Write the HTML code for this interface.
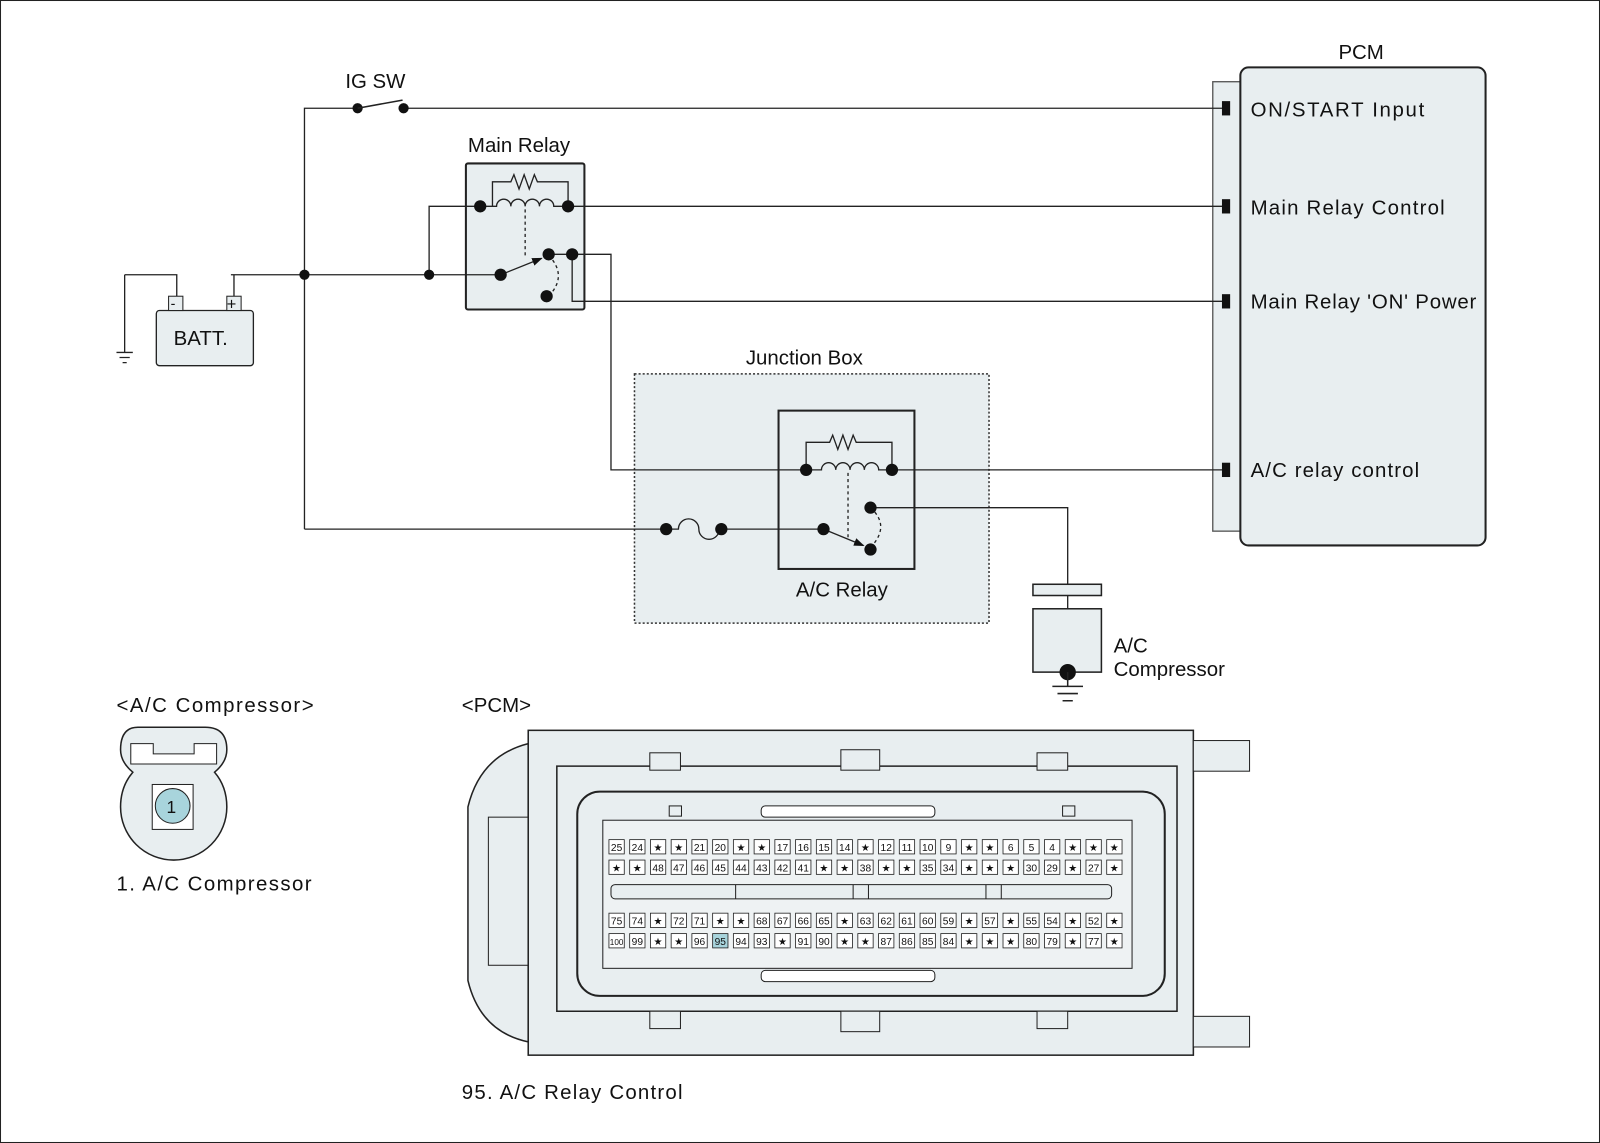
<!DOCTYPE html>
<html><head><meta charset="utf-8"><style>
html,body{margin:0;padding:0;background:#fff}
svg{display:block}
text{font-family:"Liberation Sans",sans-serif;fill:#111}
</style></head><body>
<svg width="1600" height="1143" viewBox="0 0 1566 1119" preserveAspectRatio="none" xmlns="http://www.w3.org/2000/svg">
<defs><marker id="ar" markerWidth="8" markerHeight="8" refX="7" refY="4" orient="auto"><path d="M0 1 L8 4 L0 7 Z" fill="#111"/></marker></defs>
<rect x="0.5" y="0.5" width="1565" height="1118" fill="#fff" stroke="#222"/>
<!-- PCM box -->
<rect x="1187" y="80" width="28" height="440" fill="#e8eef0" stroke="#555" stroke-width="1.3"/>
<rect x="1214" y="66" width="240" height="468" rx="8" fill="#e8eef0" stroke="#222" stroke-width="2"/>
<!-- Junction box background -->
<text x="730" y="357" font-size="20">Junction Box</text>
<rect x="621" y="366" width="347" height="244" fill="#e8eef0" stroke="#333" stroke-width="1.5" stroke-dasharray="2,2"/>
<rect x="762" y="402" width="133" height="155" fill="#e8eef0" stroke="#222" stroke-width="2"/>
<!-- Battery / main relay bg -->
<rect x="456" y="160" width="116" height="143" rx="2" fill="#e8eef0" stroke="#222" stroke-width="2"/>
<g stroke="#222" stroke-width="1.3" fill="none">
<path d="M298 518 V106 H348"/>
<path d="M398 106 H1200"/>
<path d="M226 269 H490"/>
<path d="M420 269 V202 H470"/>
<path d="M556 202 H1200"/>
<path d="M560 249 H598 V460 H790"/>
<path d="M560 249 V295 H1200"/>
<path d="M872 460 H1200"/>
<path d="M298 518 H652"/>
<path d="M706 518 H806"/>
<path d="M852 497 H1045 V572"/>
<path d="M1045 583 V596"/>
<path d="M122 269 H173 V290"/>
<path d="M122 269 V345"/>
<path d="M114 345 H130 M117 350 H127 M120 355 H124"/>
<path d="M229 290 V269"/>
</g>
<!-- IG SW -->
<circle cx="350" cy="106" r="5" fill="#111"/><circle cx="395" cy="106" r="5" fill="#111"/>
<line x1="350" y1="106" x2="394" y2="98" stroke="#222" stroke-width="1.5"/>
<text x="338" y="86" font-size="20">IG SW</text>
<!-- Battery -->
<rect x="153" y="304" width="95" height="54" rx="3" fill="#e8eef0" stroke="#222" stroke-width="1.3"/>
<rect x="165" y="290" width="14" height="14" fill="#e8eef0" stroke="#222"/><text x="167" y="302" font-size="14">-</text>
<rect x="222" y="290" width="14" height="14" fill="#e8eef0" stroke="#222"/><text x="222" y="303" font-size="16">+</text>
<text x="170" y="338" font-size="20">BATT.</text>
<circle cx="298" cy="269" r="5" fill="#111"/><circle cx="420" cy="269" r="5" fill="#111"/>
<!-- Main relay -->
<text x="458" y="149" font-size="20">Main Relay</text>
<g stroke="#222" stroke-width="1.3" fill="none">
<path d="M482 202 V178 H500 l3 -7 l5 14 l5 -14 l5 14 l5 -14 l3 7 H556 V202"/>
<path d="M470 202 H486 a7 7 0 0 1 14 0 a7 7 0 0 1 14 0 a7 7 0 0 1 14 0 a7 7 0 0 1 14 0 H556"/>
<path d="M514 205 V250" stroke-dasharray="3,3"/>
<path d="M490 269 L530 253" marker-end="url(#ar)"/>
<path d="M537 250 Q556 270 537 290" stroke-dasharray="3,3"/>
<path d="M537 249 H560"/>
</g>
<circle cx="470" cy="202" r="6" fill="#111"/><circle cx="556" cy="202" r="6" fill="#111"/>
<circle cx="490" cy="269" r="6" fill="#111"/><circle cx="537" cy="249" r="6" fill="#111"/><circle cx="560" cy="249" r="6" fill="#111"/><circle cx="535" cy="290" r="6" fill="#111"/>
<!-- AC relay -->
<g stroke="#222" stroke-width="1.3" fill="none">
<path d="M789 460 V433 H812 l3 -7 l5 14 l5 -14 l5 14 l5 -14 l3 7 H873 V460"/>
<path d="M790 460 H804 a7 7 0 0 1 14 0 a7 7 0 0 1 14 0 a7 7 0 0 1 14 0 a7 7 0 0 1 14 0 H873"/>
<path d="M830 463 V528" stroke-dasharray="3,3"/>
<path d="M806 518 L845 534" marker-end="url(#ar)"/>
<path d="M852 497 Q872 515 852 536" stroke-dasharray="3,3"/>
<path d="M652 518 H664 a10 10 0 0 1 20 0 a10 10 0 0 0 20 0 H706"/>
</g>
<circle cx="789" cy="460" r="6" fill="#111"/><circle cx="873" cy="460" r="6" fill="#111"/>
<circle cx="806" cy="518" r="6" fill="#111"/><circle cx="852" cy="497" r="6" fill="#111"/><circle cx="852" cy="538" r="6" fill="#111"/>
<circle cx="652" cy="518" r="6" fill="#111"/><circle cx="706" cy="518" r="6" fill="#111"/>
<text x="779" y="584" font-size="20">A/C Relay</text>
<!-- compressor -->
<rect x="1011" y="572" width="67" height="11" fill="#e8eef0" stroke="#222" stroke-width="1.5"/>
<rect x="1011" y="596" width="67" height="62" fill="#e8eef0" stroke="#222" stroke-width="1.5"/>
<circle cx="1045" cy="658" r="8" fill="#111"/>
<g stroke="#222" stroke-width="1.5"><path d="M1045 658 V672 M1030 672 H1060 M1035 679 H1055 M1040 686 H1050"/></g>
<text x="1090" y="639" font-size="20">A/C</text>
<text x="1090" y="662" font-size="20">Compressor</text>
<!-- PCM labels -->
<text x="1310" y="58" font-size="20">PCM</text>
<g fill="#111"><rect x="1196" y="99" width="8" height="14"/><rect x="1196" y="195" width="8" height="14"/><rect x="1196" y="288" width="8" height="14"/><rect x="1196" y="453" width="8" height="14"/></g>
<text x="1224" y="114" font-size="20" textLength="170">ON/START Input</text>
<text x="1224" y="210" font-size="20" textLength="190">Main Relay Control</text>
<text x="1224" y="302" font-size="20" textLength="221">Main Relay 'ON' Power</text>
<text x="1224" y="467" font-size="20" textLength="165">A/C relay control</text>
<!-- A/C compressor connector -->
<text x="114" y="697" font-size="20" textLength="193">&lt;A/C Compressor&gt;</text>
<path d="M135 712 H201 Q222 712 222 734 Q222 746 210 756 Q222 770 222 790 A52 52 0 0 1 118 790 Q118 770 130 756 Q118 746 118 734 Q118 712 135 712 Z" fill="#e8eef0" stroke="#222" stroke-width="1.5"/>
<path d="M128 728 V748 H212 V728 H190 V738 H150 V728 Z" fill="#fff" stroke="#222"/>
<rect x="149" y="768" width="40" height="44" fill="#fff" stroke="#222"/>
<circle cx="169" cy="789" r="17" fill="#a8d4dc" stroke="#222"/>
<text x="163" y="796" font-size="17">1</text>
<text x="114" y="872" font-size="20" textLength="191">1. A/C Compressor</text>
<!-- PCM connector -->
<text x="452" y="697" font-size="20">&lt;PCM&gt;</text>
<path d="M517 728 Q470 740 458 790 V960 Q470 1010 517 1020 Z" fill="#e8eef0" stroke="#222" stroke-width="1.5"/>
<rect x="478" y="800" width="40" height="145" fill="#e8eef0" stroke="#222"/>
<rect x="517" y="715" width="651" height="318" fill="#e8eef0" stroke="#222" stroke-width="1.5"/>
<rect x="1168" y="725" width="55" height="30" fill="#e8eef0" stroke="#222"/>
<rect x="1168" y="995" width="55" height="30" fill="#e8eef0" stroke="#222"/>
<path d="M545 750 H1152 V990 H545 Z" fill="#e8eef0" stroke="#222" stroke-width="1.5"/>
<rect x="565" y="775" width="575" height="200" rx="22" fill="#e8eef0" stroke="#222" stroke-width="2"/>
<rect x="590" y="803" width="518" height="145" fill="#eef2f3" stroke="#222"/>
<rect x="745" y="789" width="170" height="11" rx="4" fill="#fff" stroke="#222"/>
<rect x="745" y="950" width="170" height="11" rx="4" fill="#fff" stroke="#222"/>
<g fill="#e8eef0" stroke="#222">
<rect x="636" y="737" width="30" height="17"/><rect x="823" y="734" width="38" height="20"/><rect x="1015" y="737" width="30" height="17"/>
<rect x="636" y="990" width="30" height="17"/><rect x="823" y="990" width="38" height="20"/><rect x="1015" y="990" width="30" height="17"/>
<rect x="655" y="789" width="12" height="10"/><rect x="1040" y="789" width="12" height="10"/>
<rect x="598" y="866" width="490" height="14" rx="4"/>
</g>
<g stroke="#222" fill="none"><path d="M720 866 V880 M835 866 V880 M850 866 V880 M965 866 V880 M980 866 V880"/></g>
<g id="pins"></g>
<text x="452" y="1076" font-size="20" textLength="216">95. A/C Relay Control</text>
</svg>
<script>
const rows=[
"25 24 * * 21 20 * * 17 16 15 14 * 12 11 10 9 * * 6 5 4 * * *",
"* * 48 47 46 45 44 43 42 41 * * 38 * * 35 34 * * * 30 29 * 27 *",
"75 74 * 72 71 * * 68 67 66 65 * 63 62 61 60 59 * 57 * 55 54 * 52 *",
"100 99 * * 96 95 94 93 * 91 90 * * 87 86 85 84 * * * 80 79 * 77 *"];
const ys=[822,842,894,914];
const ns="http://www.w3.org/2000/svg";
const g=document.getElementById("pins");
rows.forEach((r,ri)=>{r.split(" ").forEach((v,ci)=>{
 const x=596+ci*20.3;
 const rc=document.createElementNS(ns,"rect");
 rc.setAttribute("x",x);rc.setAttribute("y",ys[ri]);rc.setAttribute("width",15);rc.setAttribute("height",14);
 rc.setAttribute("fill",v==="95"?"#a8d4dc":"#fff");rc.setAttribute("stroke","#222");rc.setAttribute("stroke-width","0.8");
 g.appendChild(rc);
 const t=document.createElementNS(ns,"text");
 t.setAttribute("x",x+7.5);t.setAttribute("y",ys[ri]+11);t.setAttribute("text-anchor","middle");
 t.setAttribute("font-size",v.length>2?"8":"10");
 t.textContent=v==="*"?"★":v;g.appendChild(t);
});});
</script>
</body></html>
